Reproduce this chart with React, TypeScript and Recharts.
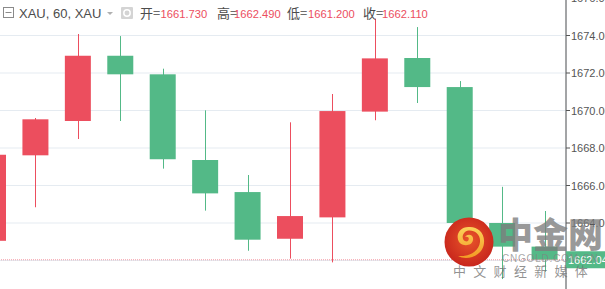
import React from "react";
import {
  Bar,
  CartesianGrid,
  ComposedChart,
  ReferenceLine,
  XAxis,
  YAxis,
} from "recharts";

// hourly XAU candles
const hours = [
  "01:00", "02:00", "03:00", "04:00", "05:00", "06:00", "07:00",
  "08:00", "09:00", "10:00", "11:00", "12:00", "13:00", "14:00",
];
const opens = [
  1663.05, 1667.61, 1669.44, 1672.92, 1671.93, 1667.36, 1665.65,
  1663.16, 1664.3, 1669.94, 1672.8, 1671.25, 1664.0, 1662.74,
];
const highs = [
  1667.9, 1669.6, 1674.08, 1673.97, 1672.23, 1670.01, 1666.56,
  1669.37, 1670.88, 1674.9, 1674.45, 1671.57, 1665.93, 1664.64,
];
const lows = [
  1662.6, 1664.84, 1668.48, 1669.44, 1666.9, 1664.66, 1662.52,
  1662.1, 1661.9, 1669.48, 1670.4, 1663.9, 1661.01, 1661.4,
];
const closes = [
  1667.64, 1669.53, 1672.92, 1671.93, 1667.4, 1665.58, 1663.11,
  1664.37, 1669.97, 1672.78, 1671.25, 1664.0, 1662.74, 1662.04,
];
const priceTicks = [1660, 1662, 1664, 1666, 1668, 1670, 1672, 1674, 1676];
const gridHours = ["02:00", "05:00", "08:00", "11:00", "14:00"];
const lastPrice = 1662.04;
const legendLabels = ["开=", "高=", "低=", "收="];
const legendValues = ["1661.730", "1662.490", "1661.200", "1662.110"];

const UP = "#ec4e5e";
const DOWN = "#53b987";
const GRID = "#e5ebf1";
const TEXT = "#4c4c4c";
const FONT = "Liberation Sans, Arial, sans-serif";

const data = hours.map((t, i) => ({
  t,
  open: opens[i],
  high: highs[i],
  low: lows[i],
  close: closes[i],
}));

// axis ticks incl. the last price, which is drawn as the green tag
const axisTicks = [...priceTicks, lastPrice].sort((a, b) => a - b);

const Candle = (props: any) => {
  const { x, y, width, height, payload } = props;
  if (!payload) return null;
  const top = Math.min(y, y + height);
  const h = Math.abs(height);
  const { open, close, high, low } = payload;
  const k = h / (high - low);
  const color = close >= open ? UP : DOWN;
  const bodyTop = top + (high - Math.max(open, close)) * k;
  const bodyH = Math.max(1, Math.abs(open - close) * k);
  const cx = Math.round(x + width / 2) + 0.5;
  return (
    <g>
      <line x1={cx} x2={cx} y1={top} y2={top + h} stroke={color} strokeWidth={1} />
      <rect x={x} y={bodyTop} width={width} height={bodyH} fill={color} />
    </g>
  );
};

const PriceTick = (props: any) => {
  const { x, y, payload } = props;
  const v = payload.value;
  if (v === lastPrice) {
    return (
      <g>
        <rect x={x - 5} y={y - 8.5} width={45} height={17} fill={DOWN} />
        <text x={x - 3} y={y + 4} fill="#fff" fontSize={11} fontFamily={FONT}>
          {v.toFixed(2)}
        </text>
      </g>
    );
  }
  return (
    <text x={x} y={y + 4} fill="#555" fontSize={11} fontFamily={FONT}>
      {v.toFixed(2)}
    </text>
  );
};

const Header = function () {
  const labelX = [140, 217, 287, 363];
  const valueX = [160.5, 234, 308, 382];
  return (
    <svg
      width={605}
      height={30}
      style={{ position: "absolute", left: 0, top: 0 }}
    >
      <rect x={3.5} y={7.5} width={10} height={10} fill="none" stroke="#8a8a8a" />
      <line x1={5.5} x2={11.5} y1={12.5} y2={12.5} stroke="#8a8a8a" />
      <text x={19} y={18} fill={TEXT} fontSize={13} fontFamily={FONT}>
        XAU, 60, XAU
      </text>
      <path d="M107 12 L113 12 L110 15 Z" fill="#b0b0b0" />
      <rect x={121} y={7} width={12} height={12} rx={1} fill="#d4d4d4" />
      <circle cx={127} cy={13} r={3.2} fill="none" stroke="#fff" strokeWidth={1.5} />
      {legendLabels.map((l, i) => (
        <text
          key={l}
          x={labelX[i]}
          y={18}
          fill={TEXT}
          fontSize={13}
          fontFamily="Noto Sans CJK SC, sans-serif"
        >
          {l}
        </text>
      ))}
      {legendValues.map((v, i) => (
        <text
          key={v + i}
          x={valueX[i]}
          y={18}
          fill={UP}
          fontSize={11.2}
          fontFamily={FONT}
        >
          {v}
        </text>
      ))}
    </svg>
  );
};

const Watermark = function () {
  return (
    <div style={{ position: "absolute", left: 0, top: 0, pointerEvents: "none" }}>
      <svg
        width={52}
        height={52}
        style={{ position: "absolute", left: 443, top: 216 }}
      >
        <defs>
          <radialGradient id="lg" cx="50%" cy="45%" r="55%">
            <stop offset="0%" stopColor="#e8542a" />
            <stop offset="100%" stopColor="#c8261c" />
          </radialGradient>
          <linearGradient id="sw" x1="0" y1="0" x2="0" y2="1">
            <stop offset="0%" stopColor="#fbd25a" />
            <stop offset="100%" stopColor="#f39a24" />
          </linearGradient>
        </defs>
        <circle cx={26} cy={26} r={24.5} fill="url(#lg)" />
        <path
          d="M27 11 C17 10 12 19 16 26 C20 31 29 30 30 24 C31 19 25 17 22 21 C25 20 27 22 25 25 C21 27 17 21 22 16 C28 12 38 17 37 26 C36 35 27 41 15 40 C24 45 40 40 41 27 C42 17 35 11 27 11 Z"
          fill="url(#sw)"
        />
      </svg>
      <div
        style={{
          position: "absolute",
          left: 498,
          top: 209,
          fontSize: 35,
          fontWeight: 900,
          fontFamily: "Noto Sans CJK SC, sans-serif",
          color: "rgba(125,125,125,0.78)",
          whiteSpace: "nowrap",
          lineHeight: "48px",
        }}
      >
        中金网
      </div>
      <div
        style={{
          position: "absolute",
          left: 502,
          top: 253,
          fontSize: 10,
          letterSpacing: 0.8,
          fontFamily: FONT,
          color: "rgba(130,130,130,0.7)",
          whiteSpace: "nowrap",
          lineHeight: "12px",
        }}
      >
        CNGOLD.COM.CN
      </div>
      <div
        style={{
          position: "absolute",
          left: 453,
          top: 262,
          fontSize: 13,
          letterSpacing: 7.3,
          fontFamily: "Noto Sans CJK SC, sans-serif",
          color: "rgba(110,110,110,0.75)",
          whiteSpace: "nowrap",
          lineHeight: "18px",
        }}
      >
        中文财经新媒体
      </div>
    </div>
  );
};

const App = function () {
  return (
    <div
      style={{
        position: "relative",
        width: 605,
        height: 289,
        overflow: "hidden",
        background: "#fff",
      }}
    >
      <style>{"body{margin:0}"}</style>
      <div style={{ position: "absolute", left: -28, top: -20 }}>
        <ComposedChart
          width={633}
          height={330}
          data={data}
          margin={{ top: 0, right: 0, left: 0, bottom: 0 }}
        >
          <CartesianGrid stroke={GRID} horizontalValues={priceTicks} />
          <XAxis
            dataKey="t"
            ticks={gridHours}
            height={0}
            tick={false}
            axisLine={false}
            tickLine={false}
          />
          <YAxis
            orientation="right"
            width={39}
            type="number"
            domain={[1659.36, 1676.96]}
            allowDataOverflow
            ticks={axisTicks}
            tick={<PriceTick />}
            axisLine={{ stroke: "#555" }}
            tickLine={{ stroke: "#555" }}
            tickSize={4}
            tickMargin={1}
          />
          <Bar
            dataKey={(d: any) => [d.low, d.high]}
            barSize={26}
            shape={<Candle />}
            isAnimationActive={false}
          />
          <ReferenceLine
            y={lastPrice}
            stroke="#ef7080"
            strokeOpacity={0.7}
            strokeDasharray="1 1"
          />
        </ComposedChart>
      </div>
      <Header />
      <Watermark />
    </div>
  );
};

export default App;
